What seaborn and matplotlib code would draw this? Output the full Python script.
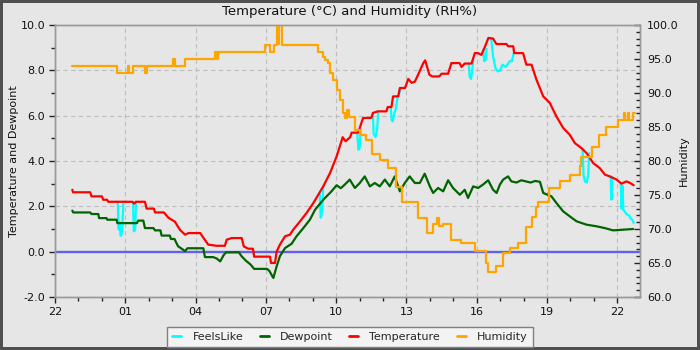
import numpy as np
import pandas as pd
import matplotlib
matplotlib.use("Agg")
import matplotlib.pyplot as plt
import matplotlib.dates as mdates
import seaborn as sns
from matplotlib.lines import Line2D
from matplotlib.ticker import MultipleLocator, FormatStrFormatter

# ---- data (hours after 22:00 of the first day) ----
temp_hours = [0.74, 0.77, 1.50, 1.56, 2.00, 2.06, 2.22, 2.28, 3.30, 3.38,
              3.45, 3.84, 3.91, 4.22, 4.27, 4.65, 4.84, 5.12, 5.33, 5.55,
              5.70, 6.20, 6.33, 6.54, 6.90, 7.25, 7.33, 7.54, 7.97, 8.06,
              8.25, 8.45, 8.50, 9.18, 9.22, 9.39, 9.46, 9.60, 9.82, 10.03,
              10.17, 10.46, 10.74, 11.03, 11.45, 11.74, 12.02, 12.28, 12.40, 12.60,
              12.66, 12.94, 13.15, 13.50, 13.57, 13.78, 14.15, 14.20, 14.36, 14.43,
              14.65, 14.72, 14.94, 15.08, 15.22, 15.36, 15.50, 15.72, 15.80, 15.98,
              16.10, 16.40, 16.50, 16.78, 16.92, 17.27, 17.35, 17.49, 17.78, 17.92,
              18.06, 18.20, 18.35, 18.50, 18.70, 18.84, 19.27, 19.34, 19.56, 19.60,
              19.98, 20.12, 20.34, 20.55, 20.84, 21.12, 21.40, 21.69, 21.97, 22.19,
              22.47, 22.69, 22.97, 23.25, 23.47, 23.68, 23.97, 24.18, 24.39, 24.53,
              24.70]
temperature = [2.73, 2.62, 2.62, 2.44, 2.44, 2.29, 2.29, 2.20, 2.20, 2.12,
               2.20, 2.20, 1.90, 1.90, 1.73, 1.73, 1.50, 1.32, 0.97, 0.75,
               0.82, 0.82, 0.62, 0.31, 0.26, 0.26, 0.53, 0.60, 0.60, 0.23,
               0.13, 0.13, -0.22, -0.22, -0.50, -0.50, 0.00, 0.31, 0.68, 0.75,
               0.97, 1.34, 1.71, 2.15, 2.88, 3.47, 4.20, 5.05, 4.87, 5.05,
               5.25, 5.25, 5.90, 5.90, 6.12, 6.19, 6.19, 6.38, 6.38, 6.85,
               6.85, 7.22, 7.22, 7.62, 7.45, 7.50, 7.81, 8.32, 8.44, 7.81,
               7.73, 7.73, 7.85, 7.85, 8.32, 8.32, 8.15, 8.30, 8.30, 8.76,
               8.76, 8.68, 9.04, 9.43, 9.40, 9.16, 9.16, 9.06, 9.06, 8.76,
               8.76, 8.25, 8.25, 7.59, 6.85, 6.56, 5.97, 5.46, 5.16, 4.79,
               4.57, 4.35, 3.91, 3.69, 3.40, 3.32, 3.18, 3.00, 3.10, 3.04,
               2.93]

dew_hours = [0.74, 0.78, 1.50, 1.56, 1.85, 1.88, 2.20, 2.23, 2.63, 2.66,
             3.50, 3.55, 3.77, 3.84, 4.20, 4.27, 4.50, 4.55, 4.90, 4.95,
             5.10, 5.25, 5.45, 5.55, 5.65, 6.33, 6.40, 6.75, 6.90, 7.05,
             7.20, 7.30, 7.85, 7.97, 8.15, 8.35, 8.50, 9.05, 9.15, 9.28,
             9.32, 9.46, 9.60, 9.82, 10.10, 10.31, 10.60, 10.88, 11.10, 11.45,
             11.80, 12.02, 12.20, 12.37, 12.58, 12.80, 13.01, 13.22, 13.44, 13.65,
             13.86, 14.08, 14.29, 14.50, 14.72, 14.93, 15.14, 15.36, 15.57, 15.78,
             16.00, 16.14, 16.35, 16.57, 16.78, 16.99, 17.28, 17.49, 17.63, 17.85,
             18.06, 18.27, 18.49, 18.70, 18.85, 18.99, 19.13, 19.34, 19.48, 19.70,
             19.90, 20.10, 20.30, 20.50, 20.70, 20.84, 21.19, 21.40, 21.69, 21.97,
             22.26, 22.69, 23.11, 23.47, 23.82, 24.25, 24.68]
dewpoint = [1.81, 1.73, 1.73, 1.66, 1.66, 1.48, 1.48, 1.41, 1.41, 1.26,
            1.26, 1.37, 1.37, 1.04, 1.04, 0.94, 0.94, 0.71, 0.71, 0.56,
            0.56, 0.24, 0.10, 0.02, 0.15, 0.15, -0.24, -0.24, -0.30, -0.43,
            -0.15, -0.03, -0.03, -0.21, -0.40, -0.57, -0.76, -0.76, -0.85, -1.09,
            -1.16, -0.65, -0.20, 0.16, 0.35, 0.68, 1.04, 1.41, 1.85, 2.29,
            2.66, 2.93, 2.80, 2.96, 3.18, 2.81, 3.03, 3.32, 2.88, 3.03,
            2.88, 3.18, 2.88, 3.32, 2.66, 3.03, 3.32, 3.03, 3.03, 3.44,
            2.88, 2.59, 2.81, 2.66, 3.15, 2.81, 2.51, 2.73, 2.37, 2.88,
            2.81, 2.96, 3.15, 2.73, 2.59, 2.96, 3.18, 3.32, 3.10, 3.05,
            3.15, 3.10, 3.05, 3.12, 3.08, 2.59, 2.44, 2.15, 1.78, 1.56,
            1.34, 1.19, 1.12, 1.04, 0.94, 0.97, 1.00]

hum_hours = [0.74, 2.63, 3.13, 3.17, 3.34, 3.84, 3.91, 5.05, 5.12, 5.55,
             6.83, 6.90, 6.97, 7.04, 8.96, 9.17, 9.35, 9.46, 9.53, 9.57,
             9.68, 11.24, 11.45, 11.52, 11.67, 11.74, 11.88, 12.02, 12.16, 12.28,
             12.38, 12.45, 12.55, 12.65, 12.80, 13.01, 13.29, 13.51, 13.86, 14.22,
             14.57, 14.79, 15.50, 15.86, 16.14, 16.30, 16.40, 16.55, 16.92, 17.35,
             17.92, 18.40, 18.49, 18.84, 19.13, 19.41, 19.77, 20.12, 20.34, 20.55,
             20.62, 21.10, 21.55, 21.97, 22.40, 22.47, 22.90, 23.20, 23.54, 24.02,
             24.30, 24.35, 24.45, 24.50, 24.68, 24.75]
humidity = [94.0, 93.0, 94.0, 93.0, 94.0, 93.0, 94.0, 95.0, 94.0, 95.0,
            96.0, 95.0, 96.0, 96.0, 97.0, 96.0, 97.0, 100.0, 97.2, 100.0,
            97.0, 96.0, 95.3, 94.85, 94.4, 92.9, 91.9, 90.4, 89.0, 87.0,
            86.3, 87.5, 86.5, 86.5, 84.6, 83.8, 83.1, 81.1, 80.1, 78.9,
            76.2, 74.0, 71.6, 69.4, 70.8, 71.6, 70.4, 70.8, 68.4, 67.9,
            66.7, 65.0, 63.7, 64.5, 66.4, 67.2, 68.0, 70.3, 71.8, 73.3,
            74.0, 76.0, 77.1, 77.9, 79.3, 80.6, 82.1, 83.8, 85.0, 86.1,
            87.0, 86.1, 87.0, 86.1, 87.1, 87.1]

# FeelsLike only where it departs from Temperature (NaN separates the dips)
nan = np.nan
feels_hours = [2.68, 2.71, 2.74, 2.76, 2.80, 2.84, 2.88, 2.92, nan,
               3.33, 3.36, 3.42, 3.46, nan,
               11.30, 11.34, 11.38, 11.42, 11.45, nan,
               12.90, 12.95, 13.00, 13.05, nan,
               13.57, 13.60, 13.68, 13.75, 13.80, nan,
               14.33, 14.37, 14.42, 14.48, 14.55, 14.62, 14.70, 14.76, nan,
               17.66, 17.70, 17.76, 17.82, 17.86, nan,
               18.28, 18.32, 18.38, 18.42, nan,
               18.62, 18.70, 18.80, 18.90, 19.00, 19.10, 19.25, 19.40, 19.50, 19.58, nan,
               22.52, 22.56, 22.62, 22.70, 22.76, 22.80, nan,
               23.72, 23.74, 23.76, 23.78, nan,
               24.15, 24.18, 24.22, 24.26, 24.30, 24.40, 24.50, 24.58, 24.65, 24.70]
feelslike = [2.20, 1.00, 0.97, 1.30, 0.70, 0.75, 1.20, 2.20, nan,
             2.20, 0.90, 0.95, 2.20, nan,
             2.60, 1.50, 1.60, 2.20, 2.88, nan,
             5.25, 4.50, 4.55, 5.40, nan,
             6.12, 5.20, 5.06, 5.40, 6.19, nan,
             6.38, 5.80, 5.75, 6.10, 6.30, 6.80, 7.00, 7.22, nan,
             8.30, 7.70, 7.62, 8.10, 8.50, nan,
             8.90, 8.40, 8.45, 8.95, nan,
             9.40, 8.60, 8.10, 7.95, 8.00, 8.25, 8.15, 8.40, 8.40, 8.76, nan,
             4.55, 3.40, 3.10, 3.05, 3.40, 4.35, nan,
             3.32, 2.30, 2.30, 3.30, nan,
             3.00, 1.90, 2.90, 1.85, 1.80, 1.65, 1.60, 1.45, 1.40, 1.27]

hour_ticks = [1, 4, 7, 10, 13, 16, 19, 22]

# ---- styling ----
sns.set_theme(style="white")
plt.rcParams["font.family"] = ["DejaVu Sans"]

BG = "#e6e6e6"
base = pd.Timestamp("2024-01-01 22:00")


def to_time(h):
    return base + pd.to_timedelta(np.asarray(h, dtype=float), unit="h")


temp_df = pd.DataFrame({"time": to_time(temp_hours), "v": temperature})
dew_df = pd.DataFrame({"time": to_time(dew_hours), "v": dewpoint})
hum_df = pd.DataFrame({"time": to_time(hum_hours), "v": humidity})
fl_df = pd.DataFrame({"h": feels_hours, "v": feelslike})
fl_df["seg"] = fl_df["v"].isna().cumsum()
fl_df = fl_df.dropna().copy()
fl_df["time"] = to_time(fl_df["h"].values)

fig = plt.figure(figsize=(7, 3.5), dpi=100, facecolor=BG)
fig.patch.set_edgecolor("#505050")
fig.patch.set_linewidth(3)

ax = fig.add_axes([55 / 700, 1 - 297 / 350, 585 / 700, 272 / 350])
ax.set_facecolor(BG)

ax.axhline(0, color="#6262e4", lw=1.7, zorder=1)
sns.lineplot(data=fl_df, x="time", y="v", units="seg", estimator=None, sort=False,
             color="#00ffff", lw=1.6, ax=ax, legend=False, zorder=2)
sns.lineplot(data=dew_df, x="time", y="v", color="#006400", lw=1.6, ax=ax,
             legend=False, zorder=3, sort=False)
sns.lineplot(data=temp_df, x="time", y="v", color="#ff0000", lw=1.6, ax=ax,
             legend=False, zorder=4, sort=False)

ax2 = ax.twinx()
sns.lineplot(data=hum_df, x="time", y="v", color="#ffa500", lw=1.6, ax=ax2,
             legend=False, drawstyle="steps-post", sort=False)

# axes limits / ticks
ax.set_xlim(to_time(0.0), to_time(24.97))
ax.xaxis.set_major_locator(mdates.HourLocator(byhour=hour_ticks))
ax.xaxis.set_minor_locator(mdates.HourLocator())
ax.xaxis.set_major_formatter(mdates.DateFormatter("%H"))

ax.set_ylim(-2, 10)
ax.yaxis.set_major_locator(MultipleLocator(2))
ax.yaxis.set_minor_locator(MultipleLocator(1))
ax.yaxis.set_major_formatter(FormatStrFormatter("%.1f"))

ax2.set_ylim(60, 100)
ax2.yaxis.set_major_locator(MultipleLocator(5))
ax2.yaxis.set_minor_locator(MultipleLocator(1))
ax2.yaxis.set_major_formatter(FormatStrFormatter("%.1f"))

ax.tick_params(axis="both", which="major", direction="out", length=4, width=1,
               color="#222222", labelsize=8, pad=3, labelcolor="#111111",
               bottom=True, left=True)
ax.tick_params(axis="both", which="minor", direction="out", length=3, width=1,
               color="#222222", bottom=True, left=True)
ax2.tick_params(axis="y", which="major", direction="in", length=4, width=1,
                color="#222222", labelsize=8, pad=5, labelcolor="#111111", right=True)
ax2.tick_params(axis="y", which="minor", direction="in", length=3, width=1,
                color="#222222", right=True)

ax.grid(True, which="major", axis="both", color="#bdbdbd", lw=0.8,
        linestyle=(0, (4, 3)))
ax.set_axisbelow(True)

for a in (ax, ax2):
    for s in a.spines.values():
        s.set_color("#999999")
        s.set_linewidth(1)

ax.set_xlabel("")
ax.set_ylabel("Temperature and Dewpoint", fontsize=8, color="#111111", labelpad=1)
ax2.set_ylabel("Humidity", fontsize=8, color="#111111", labelpad=0)

fig.text(0.5, 1 - 12 / 350, "Temperature (°C) and Humidity (RH%)",
         ha="center", va="center", fontsize=9.5, color="#111111")

handles = [Line2D([], [], color=c, lw=2) for c in
           ["#00ffff", "#006400", "#ff0000", "#ffa500"]]
labels = ["FeelsLike", "Dewpoint", "Temperature", "Humidity"]
leg = fig.legend(handles, labels, loc="lower center", bbox_to_anchor=(0.5, 0.008),
                 ncol=4, fontsize=8, frameon=True, fancybox=False,
                 facecolor="#f3f3f3", edgecolor="#808080", framealpha=1,
                 handlelength=0.8, handletextpad=1.0, columnspacing=1.5,
                 borderpad=0.45, borderaxespad=0)
leg.get_frame().set_linewidth(1)

fig.savefig("out.png", dpi=100, facecolor=fig.get_facecolor(),
            edgecolor=fig.get_edgecolor())
